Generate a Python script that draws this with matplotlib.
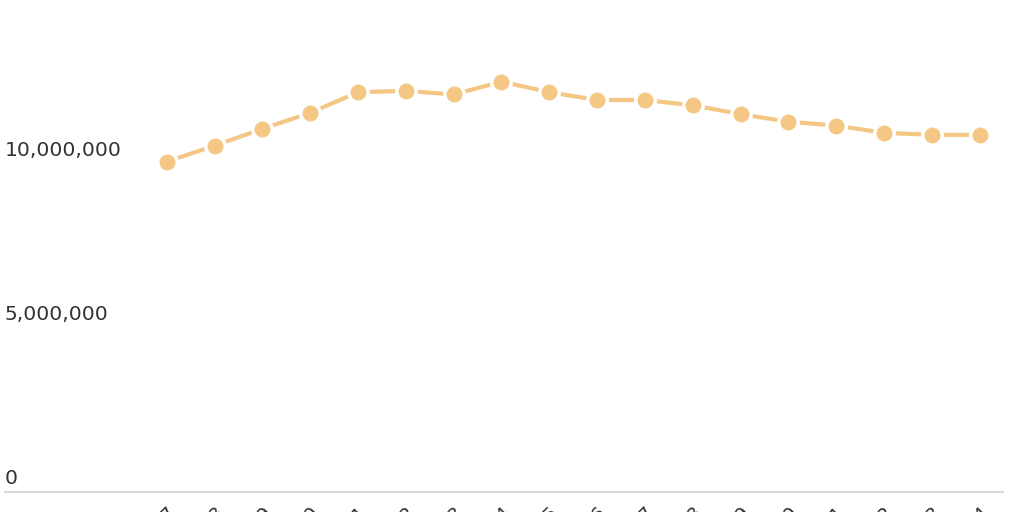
import matplotlib
matplotlib.use("Agg")
import matplotlib.pyplot as plt
import matplotlib.transforms as mtransforms

# data
years = [str(y) for y in range(2007, 2025)]
values = [10.07, 10.56, 11.07, 11.56, 12.19, 12.23, 12.12, 12.51, 12.19,
          11.95, 11.95, 11.79, 11.52, 11.29, 11.17, 10.95, 10.89, 10.89]
values = [v * 1e6 for v in values]
y_ticks = [0, 5_000_000, 10_000_000]
y_tick_labels = ["0", "5,000,000", "10,000,000"]

LINE_COLOR = "#f4c784"
TEXT_COLOR = "#333333"
AXIS_COLOR = "#d9d9d9"

plt.rcParams["font.family"] = ["DejaVu Sans"]

W, H = 1024, 512
fig = plt.figure(figsize=(W / 100, H / 100), dpi=100)
fig.patch.set_facecolor("white")

# axes span from the axis line on the left to the right edge of the plot
left_px, right_px, bottom_px = 5, 1003, 492
ax = fig.add_axes([left_px / W, (H - bottom_px) / H,
                   (right_px - left_px) / W, bottom_px / H])

x = list(range(len(years)))
ax.plot(x, values, color=LINE_COLOR, linewidth=3, solid_capstyle="butt",
        marker="o", markersize=14, markerfacecolor=LINE_COLOR,
        markeredgecolor="white", markeredgewidth=2.5, zorder=3)

# point spacing is ~47.8 px; first point sits ~162 px from the axis line start
step = 47.82
ax.set_xlim(-(166.7 - left_px) / step, len(years) - 1 + (right_px - 979.7) / step)
ax.set_ylim(0, 15_000_000)

for s in ["top", "right", "left"]:
    ax.spines[s].set_visible(False)
ax.spines["bottom"].set_color(AXIS_COLOR)
ax.spines["bottom"].set_linewidth(1.5)

ax.set_yticks([])
ax.set_xticks(x)
ax.set_xticklabels(years, rotation=45, ha="right", rotation_mode="anchor",
                   fontsize=14, color=TEXT_COLOR)
ax.tick_params(axis="x", length=0, pad=7.5)

# y labels sit above their value line, left aligned
trans = mtransforms.blended_transform_factory(ax.transAxes, ax.transData)
offset = mtransforms.ScaledTranslation(0, 8 / 100, fig.dpi_scale_trans)
for val, lab in zip(y_ticks, y_tick_labels):
    ax.text(0, val, lab, transform=trans + offset, ha="left", va="baseline",
            fontsize=14.6, color=TEXT_COLOR)

fig.savefig("out.png", dpi=100)
